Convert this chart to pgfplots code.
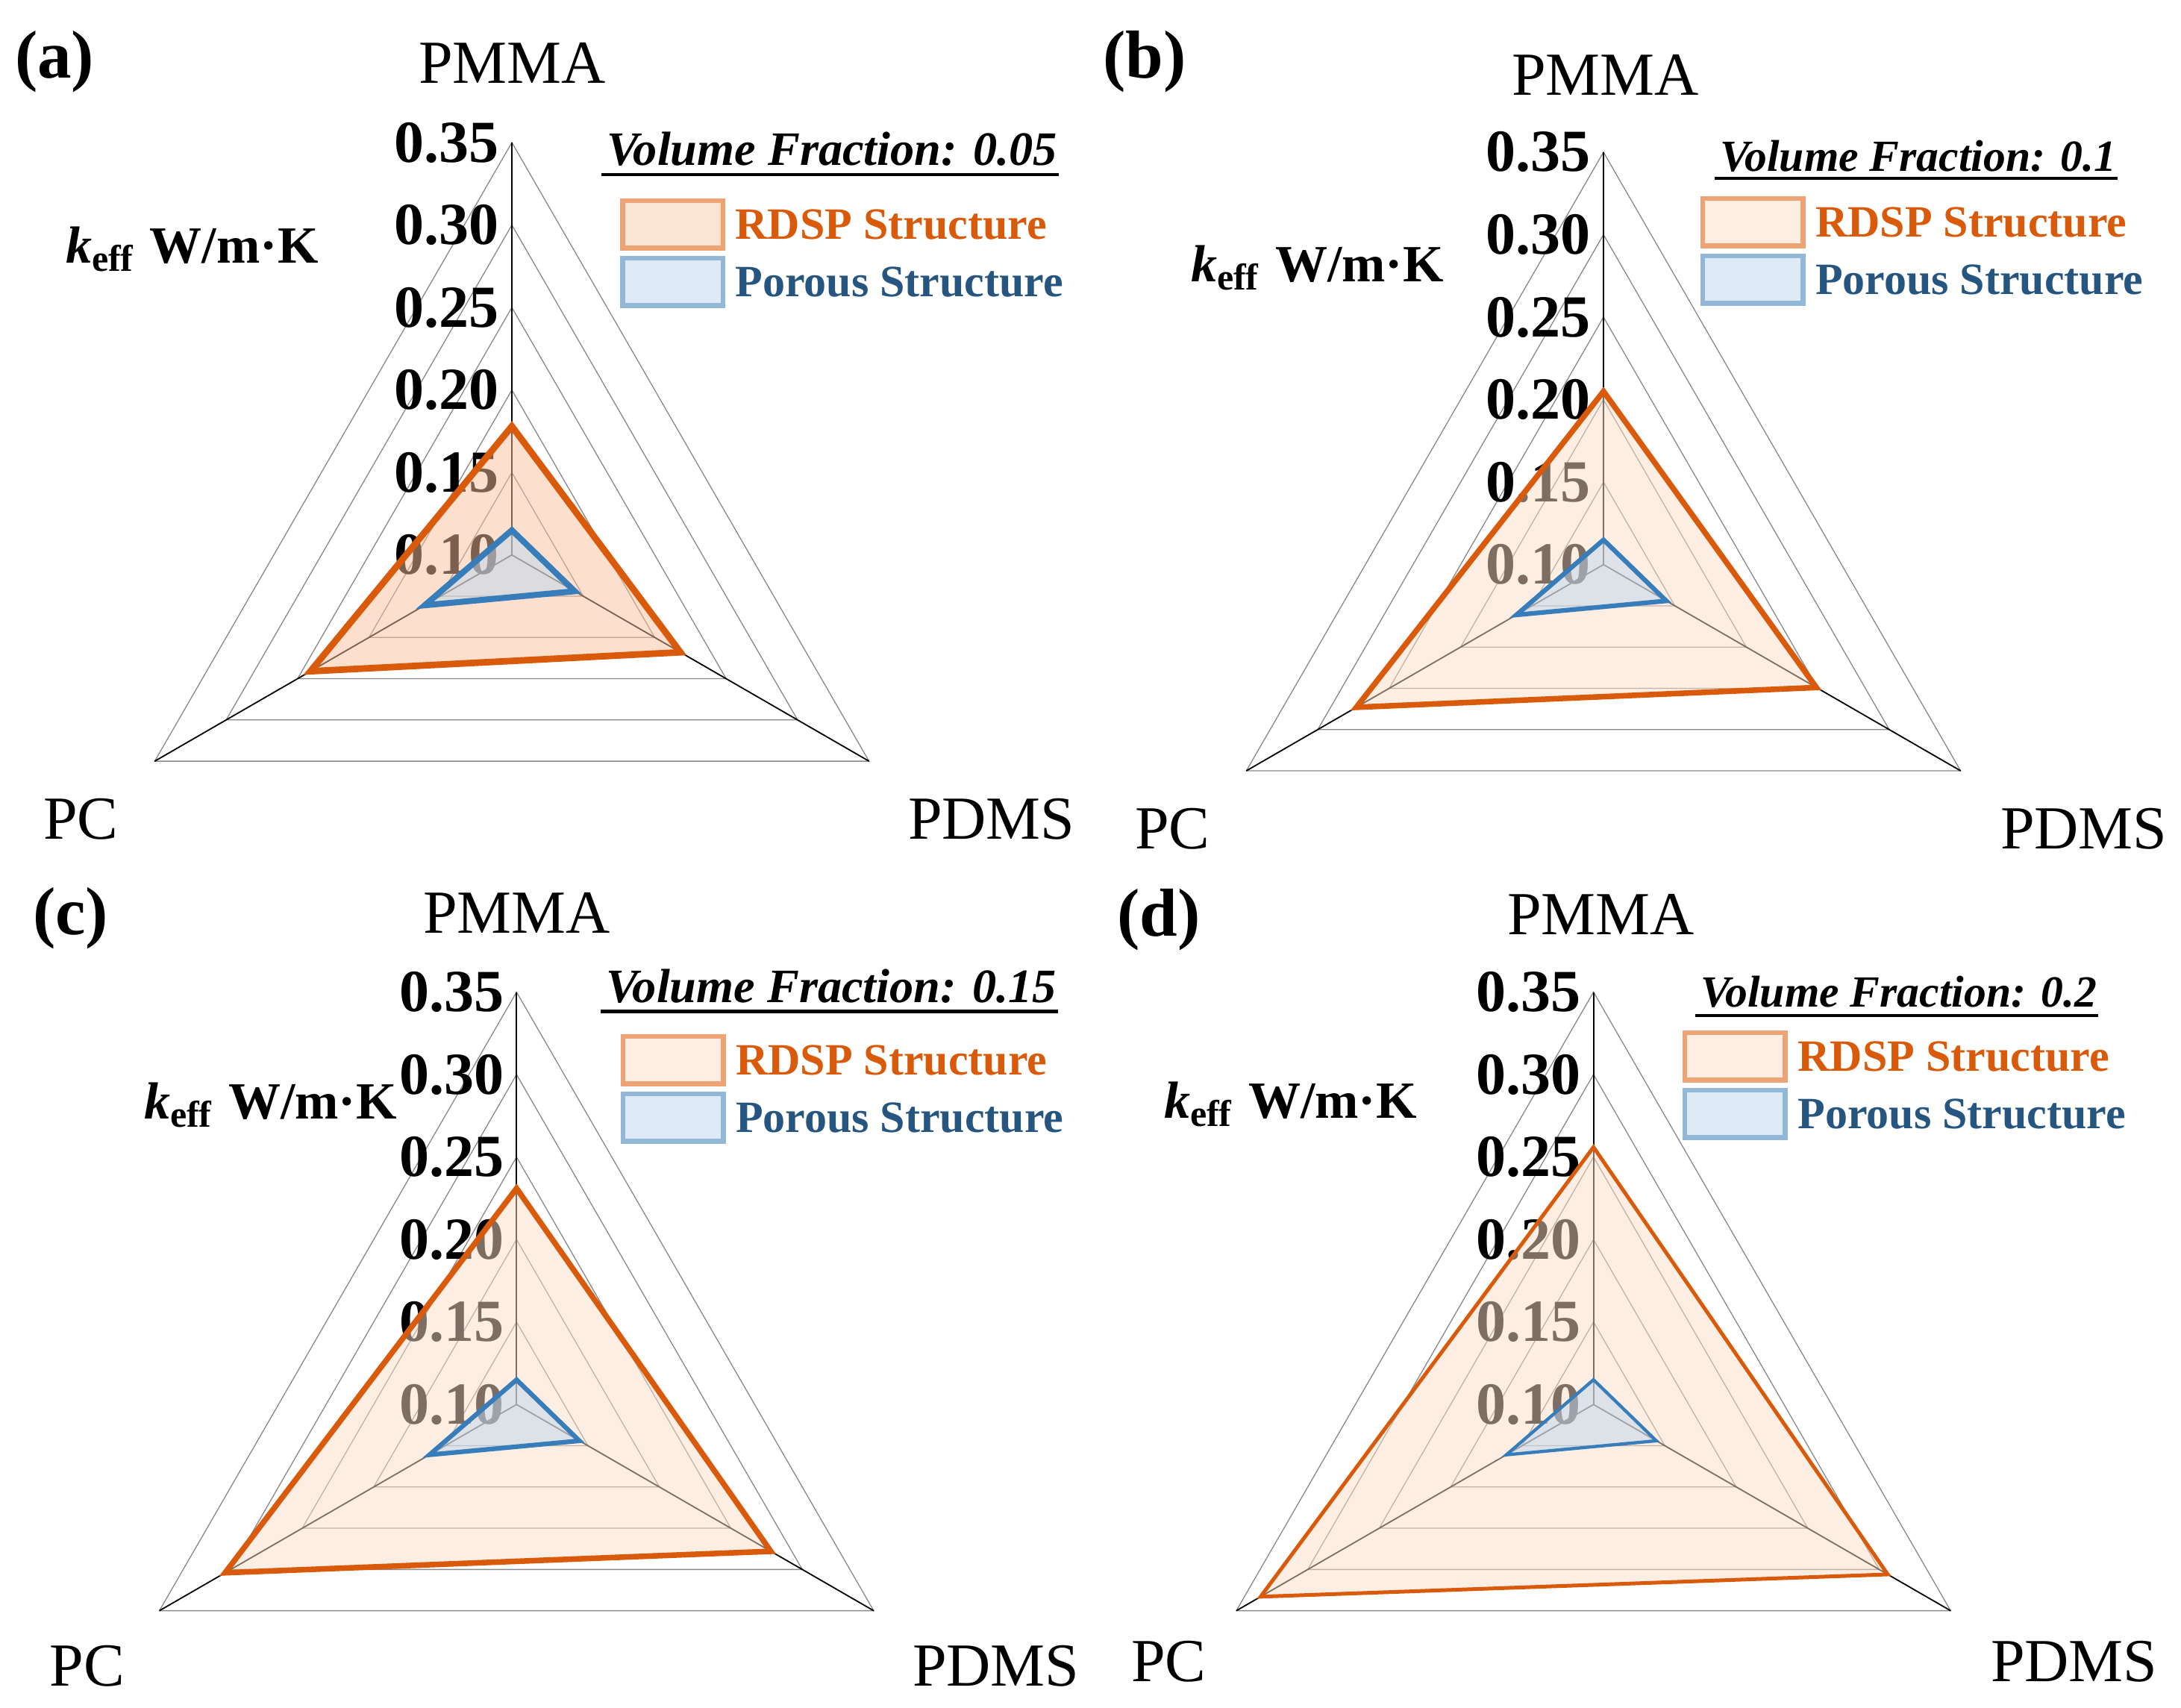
\documentclass[border=0pt]{standalone}
\usepackage{fontspec}
\setmainfont{Liberation Serif}
\usepackage{pgfplots}
\usepackage{pgfplotstable}
\pgfplotsset{compat=1.18}

\definecolor{orl}{RGB}{216,90,10}
\definecolor{blul}{RGB}{55,125,185}
\definecolor{ringc}{RGB}{136,136,136}
\definecolor{orfillA}{RGB}{249,192,156}
\definecolor{orfillB}{RGB}{251,221,201}
\definecolor{blfill}{RGB}{190,215,238}
\definecolor{legorA}{RGB}{252,228,211}
\definecolor{legorB}{RGB}{253,237,227}
\definecolor{legoredge}{RGB}{238,163,116}
\definecolor{legbl}{RGB}{222,234,245}
\definecolor{legbledge}{RGB}{147,183,214}
\definecolor{txtor}{RGB}{217,90,10}
\definecolor{txtbl}{RGB}{38,86,128}

% radar data: angle of the spoke (PMMA 90, PDMS -30, PC 210) and value
\pgfplotstableread{
ang v
90  0.178
-30 0.218
210 0.241
}\rdspA
\pgfplotstableread{
ang v
90  0.205
-30 0.249
210 0.273
}\rdspB
\pgfplotstableread{
ang v
90  0.231
-30 0.278
210 0.304
}\rdspC
\pgfplotstableread{
ang v
90  0.256
-30 0.306
210 0.333
}\rdspD
\pgfplotstableread{
ang v
90  0.115
-30 0.144
210 0.161
}\por

\tikzset{tickl/.style={anchor=east, inner sep=0pt, font=\fontsize{8}{8}\selectfont\bfseries}}
\pgfplotsset{
  radar/.style={hide axis, clip=false, x=221.08pt, y=221.08pt,
    xmin=-0.26, xmax=0.26, ymin=-0.13, ymax=0.26, anchor=origin,
    legend style={anchor=north west, draw=none, fill=none,
      inner xsep=0pt, inner ysep=0pt, outer sep=0pt,
      row sep=0.7pt, column sep=1.35pt,
      nodes={inner sep=0pt, text depth=0pt},
      font=\fontsize{6}{6}\selectfont\bfseries},
    legend cell align=left},
  ring/.style={draw=ringc, line width=0.13pt, forget plot},
  spoke/.style={draw=black, line width=0.18pt, forget plot},
  rdsp/.style={draw=orl, fill opacity=0.5,
    legend image code/.code={\draw[line width=0.65pt, draw=legoredge, fill=#1, fill opacity=1]
      (0.325pt,-3.175pt) rectangle (13.775pt,3.175pt);}},
  porous/.style={draw=blul, fill=blfill, fill opacity=0.5,
    legend image code/.code={\draw[line width=0.65pt, draw=legbledge, fill=legbl, fill opacity=1]
      (0.325pt,-3.175pt) rectangle (13.775pt,3.175pt);}}
}

\newcommand{\ringplot}[1]{\addplot[ring] table[row sep=\\,
  x expr={(\thisrow{v}-0.1)*cos(\thisrow{ang})},
  y expr={(\thisrow{v}-0.1)*sin(\thisrow{ang})}] {ang v\\ 90 #1\\ -30 #1\\ 210 #1\\} -- cycle;}
\newcommand{\spokeplot}[1]{\addplot[spoke] table[row sep=\\,
  x expr={(\thisrow{v}-0.1)*cos(\thisrow{ang})},
  y expr={(\thisrow{v}-0.1)*sin(\thisrow{ang})}] {ang v\\ #1 0.10\\ #1 0.35\\};}
\newcommand{\radarticks}{%
  \node[tickl] at (axis cs:-0.0068,0) {0.10};
  \node[tickl] at (axis cs:-0.0068,0.05) {0.15};
  \node[tickl] at (axis cs:-0.0068,0.10) {0.20};
  \node[tickl] at (axis cs:-0.0068,0.15) {0.25};
  \node[tickl] at (axis cs:-0.0068,0.20) {0.30};
  \node[tickl] at (axis cs:-0.0068,0.25) {0.35};}
\newcommand{\radarbg}{\ringplot{0.15}\ringplot{0.20}\ringplot{0.25}\ringplot{0.30}\ringplot{0.35}%
  \spokeplot{90}\spokeplot{-30}\spokeplot{210}\radarticks}

\begin{document}
\begin{tikzpicture}
\useasboundingbox (0pt,0pt) rectangle (292.3pt,-228.8pt);

% ---------------- (a)
\begin{axis}[radar, at={(68.6pt,-74.37pt)}, legend style={at={(axis cs:0.0656,0.2161)}}]
\radarbg
\addplot[rdsp=legorA, fill=orfillA, line width=0.88pt] table[
  x expr={(\thisrow{v}-0.1)*cos(\thisrow{ang})},
  y expr={(\thisrow{v}-0.1)*sin(\thisrow{ang})}] {\rdspA} -- cycle;
\addlegendentry{\textcolor{txtor}{RDSP Structure}}
\addplot[porous, line width=0.8pt] table[
  x expr={(\thisrow{v}-0.1)*cos(\thisrow{ang})},
  y expr={(\thisrow{v}-0.1)*sin(\thisrow{ang})}] {\por} -- cycle;
\addlegendentry{\textcolor{txtbl}{Porous Structure}}
\end{axis}

% ---------------- (b)
\begin{axis}[radar, at={(214.9pt,-75.66pt)}, legend style={at={(axis cs:0.0586,0.2235)}}]
\radarbg
\addplot[rdsp=legorB, fill=orfillB, line width=0.75pt] table[
  x expr={(\thisrow{v}-0.1)*cos(\thisrow{ang})},
  y expr={(\thisrow{v}-0.1)*sin(\thisrow{ang})}] {\rdspB} -- cycle;
\addlegendentry{\textcolor{txtor}{RDSP Structure}}
\addplot[porous, line width=0.62pt] table[
  x expr={(\thisrow{v}-0.1)*cos(\thisrow{ang})},
  y expr={(\thisrow{v}-0.1)*sin(\thisrow{ang})}] {\por} -- cycle;
\addlegendentry{\textcolor{txtbl}{Porous Structure}}
\end{axis}

% ---------------- (c)
\begin{axis}[radar, at={(69.23pt,-188.22pt)}, legend style={at={(axis cs:0.0630,0.2245)}}]
\radarbg
\addplot[rdsp=legorB, fill=orfillB, line width=0.75pt] table[
  x expr={(\thisrow{v}-0.1)*cos(\thisrow{ang})},
  y expr={(\thisrow{v}-0.1)*sin(\thisrow{ang})}] {\rdspC} -- cycle;
\addlegendentry{\textcolor{txtor}{RDSP Structure}}
\addplot[porous, line width=0.62pt] table[
  x expr={(\thisrow{v}-0.1)*cos(\thisrow{ang})},
  y expr={(\thisrow{v}-0.1)*sin(\thisrow{ang})}] {\por} -- cycle;
\addlegendentry{\textcolor{txtbl}{Porous Structure}}
\end{axis}

% ---------------- (d)
\begin{axis}[radar, at={(213.56pt,-188.22pt)}, legend style={at={(axis cs:0.0540,0.2268)}}]
\radarbg
\addplot[rdsp=legorB, fill=orfillB, line width=0.5pt] table[
  x expr={(\thisrow{v}-0.1)*cos(\thisrow{ang})},
  y expr={(\thisrow{v}-0.1)*sin(\thisrow{ang})}] {\rdspD} -- cycle;
\addlegendentry{\textcolor{txtor}{RDSP Structure}}
\addplot[porous, line width=0.43pt] table[
  x expr={(\thisrow{v}-0.1)*cos(\thisrow{ang})},
  y expr={(\thisrow{v}-0.1)*sin(\thisrow{ang})}] {\por} -- cycle;
\addlegendentry{\textcolor{txtbl}{Porous Structure}}
\end{axis}

% ---------------- text around the charts
\begin{scope}[x=0.1pt, y=-0.1pt, every node/.style={inner sep=0pt, anchor=base west}]
\def\pl{\fontsize{9.1}{9.1}\selectfont\bfseries}
\def\cat{\fontsize{8.2}{8.2}\selectfont}
\def\kl{\fontsize{7.0}{7.0}\selectfont\bfseries}
\node[font=\pl] at (18,104) {(a)};
\node[font=\pl] at (1476,104) {(b)};
\node[font=\pl] at (42,1252) {(c)};
\node[font=\pl] at (1495,1254) {(d)};

\node[font=\cat] at (559,111) {PMMA};
\node[font=\cat] at (56,1124) {PC};
\node[font=\cat] at (1215,1124) {PDMS};
\node[font=\cat] at (2024,127) {PMMA};
\node[font=\cat] at (1519,1137) {PC};
\node[font=\cat] at (2679,1137) {PDMS};
\node[font=\cat] at (565,1250) {PMMA};
\node[font=\cat] at (65,2259) {PC};
\node[font=\cat] at (1221,2259) {PDMS};
\node[font=\cat] at (2018,1252) {PMMA};
\node[font=\cat] at (1514,2253) {PC};
\node[font=\cat] at (2666,2253) {PDMS};

\node[font=\kl] at (86,352) {\textit{k}\textsubscript{eff} W/m·K};
\node[font=\kl] at (1594,377) {\textit{k}\textsubscript{eff} W/m·K};
\node[font=\kl] at (191,1499) {\textit{k}\textsubscript{eff} W/m·K};
\node[font=\kl] at (1558,1498) {\textit{k}\textsubscript{eff} W/m·K};

\node[font=\fontsize{6.43}{6.43}\selectfont\bfseries\itshape] (ta) at (811,221.7) {Volume Fraction: 0.05};
\draw[line width=0.42pt] ([xshift=-0.5pt,yshift=-1.2pt]ta.base west) -- ([yshift=-1.2pt]ta.base east);
\node[font=\fontsize{5.97}{5.97}\selectfont\bfseries\itshape] (tb) at (2303,229) {Volume Fraction: 0.1};
\draw[line width=0.42pt] ([xshift=-0.5pt,yshift=-1.0pt]tb.base west) -- ([yshift=-1.0pt]tb.base east);
\node[font=\fontsize{6.43}{6.43}\selectfont\bfseries\itshape] (tc) at (810,1343.8) {Volume Fraction: 0.15};
\draw[line width=0.42pt] ([xshift=-0.5pt,yshift=-1.15pt]tc.base west) -- ([yshift=-1.15pt]tc.base east);
\node[font=\fontsize{5.97}{5.97}\selectfont\bfseries\itshape] (td) at (2277,1349.6) {Volume Fraction: 0.2};
\draw[line width=0.42pt] ([xshift=-0.5pt,yshift=-1.1pt]td.base west) -- ([yshift=-1.1pt]td.base east);
\end{scope}
\end{tikzpicture}
\end{document}
